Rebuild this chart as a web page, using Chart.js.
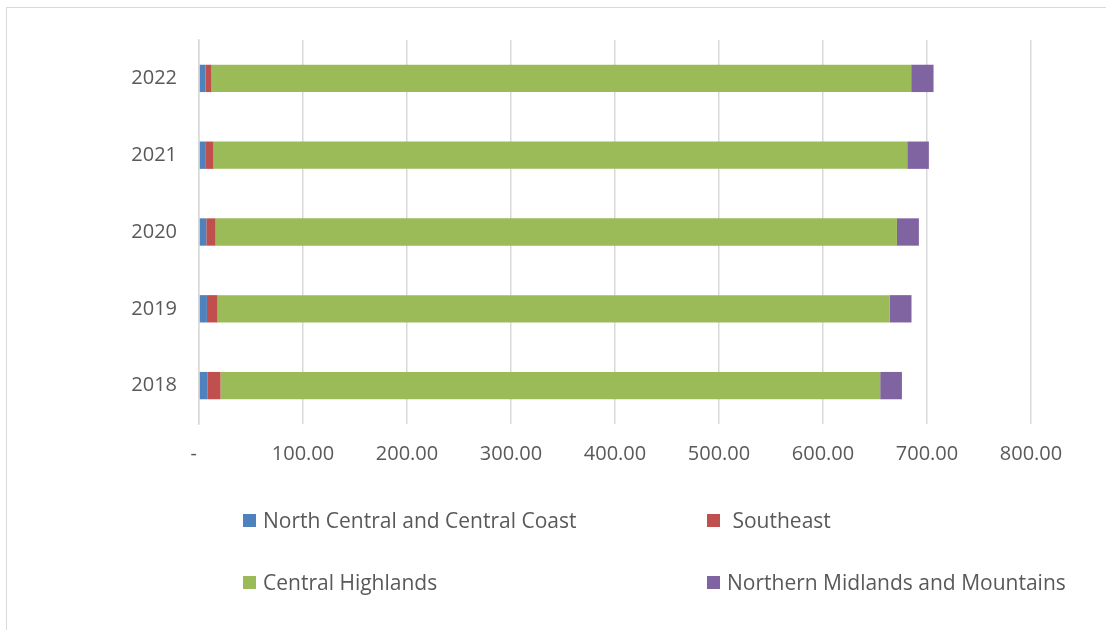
<!DOCTYPE html>
<html>
<head>
<meta charset="utf-8">
<script src="https://cdn.jsdelivr.net/npm/chart.js@4/dist/chart.umd.min.js"></script>
<style>
  html, body { margin: 0; padding: 0; background: #fff; overflow: hidden; }
  #wrap { position: relative; width: 1106px; height: 630px; }
  #frame { position: absolute; left: 6px; top: 7px; width: 1200px; height: 700px;
           border: 1.5px solid #d9d9d9; box-sizing: border-box; }
  #chart { position: absolute; left: 0; top: 0; }
  .legend-item { position: absolute; display: flex; align-items: center;
                 font-family: "Open Sans", sans-serif; font-size: 21px; color: #595959;
                 white-space: pre; line-height: 1; }
  .legend-item .box { width: 13px; height: 13px; margin-right: 7px; flex: none; }
</style>
</head>
<body>
<div id="wrap">
  <div id="frame"></div>
  <canvas id="chart" width="1106" height="630"></canvas>
  <div id="legend"></div>
</div>
<script>
// Years, bottom to top
const years = ['2018', '2019', '2020', '2021', '2022'];

// Values per region
const northCentralCoast = [8.0, 7.6, 7.0, 6.6, 6.3];
const southeast = [12.7, 10.2, 8.9, 7.3, 5.7];
const centralHighlands = [634.3, 646.2, 655.2, 667.1, 672.8];
const northernMidlands = [20.9, 21.1, 21.1, 20.8, 21.5];

const seriesNames = ['North Central and Central Coast', ' Southeast', 'Central Highlands', 'Northern Midlands and Mountains'];
const seriesColors = ['#4F81BD', '#C0504D', '#9BBB59', '#8064A2'];

// Value axis ticks
const xTickMax = 800;
const xTickStep = 100;

const seriesValues = [northCentralCoast, southeast, centralHighlands, northernMidlands];
const datasets = seriesNames.map((name, i) => ({
  label: name,
  data: seriesValues[i],
  backgroundColor: seriesColors[i],
  borderWidth: 0,
  barPercentage: 0.356,
  categoryPercentage: 1.0
}));

const textColor = '#595959';
const gridColor = '#d9d9d9';
const fontFamily = '"Open Sans", sans-serif';

const chart = new Chart(document.getElementById('chart'), {
  type: 'bar',
  data: { labels: years, datasets },
  options: {
    indexAxis: 'y',
    responsive: false,
    animation: false,
    layout: { padding: { left: 0, right: 75, top: 40, bottom: 0 } },
    plugins: { legend: { display: false }, tooltip: { enabled: false } },
    scales: {
      x: {
        stacked: true,
        min: 0,
        max: xTickMax,
        afterFit: (scale) => { scale.height = 206; },
        ticks: {
          stepSize: xTickStep,
          color: textColor,
          font: { family: fontFamily, size: 20 },
          padding: 18,
          maxRotation: 0,
          callback: (v) => (v === 0 ? '-  ' : v.toFixed(2))
        },
        grid: { color: gridColor, lineWidth: 1.5, drawTicks: false },
        border: { display: false }
      },
      y: {
        stacked: true,
        reverse: true,
        afterFit: (scale) => { scale.width = 199; },
        ticks: {
          color: textColor,
          font: { family: fontFamily, size: 20 },
          padding: 22
        },
        grid: { display: false, drawTicks: false },
        border: { display: true, color: gridColor, width: 1.5 }
      }
    }
  }
});

// Legend laid out in two rows of two entries
const legendPos = [
  { left: 243, top: 510 }, { left: 707, top: 510 },
  { left: 243, top: 572 }, { left: 707, top: 572 }
];
const legendEl = document.getElementById('legend');
chart.data.datasets.forEach((ds, i) => {
  const item = document.createElement('div');
  item.className = 'legend-item';
  item.style.left = legendPos[i].left + 'px';
  item.style.top = legendPos[i].top + 'px';
  const box = document.createElement('span');
  box.className = 'box';
  box.style.background = ds.backgroundColor;
  const txt = document.createElement('span');
  txt.textContent = ds.label;
  item.appendChild(box);
  item.appendChild(txt);
  legendEl.appendChild(item);
});
</script>
</body>
</html>
